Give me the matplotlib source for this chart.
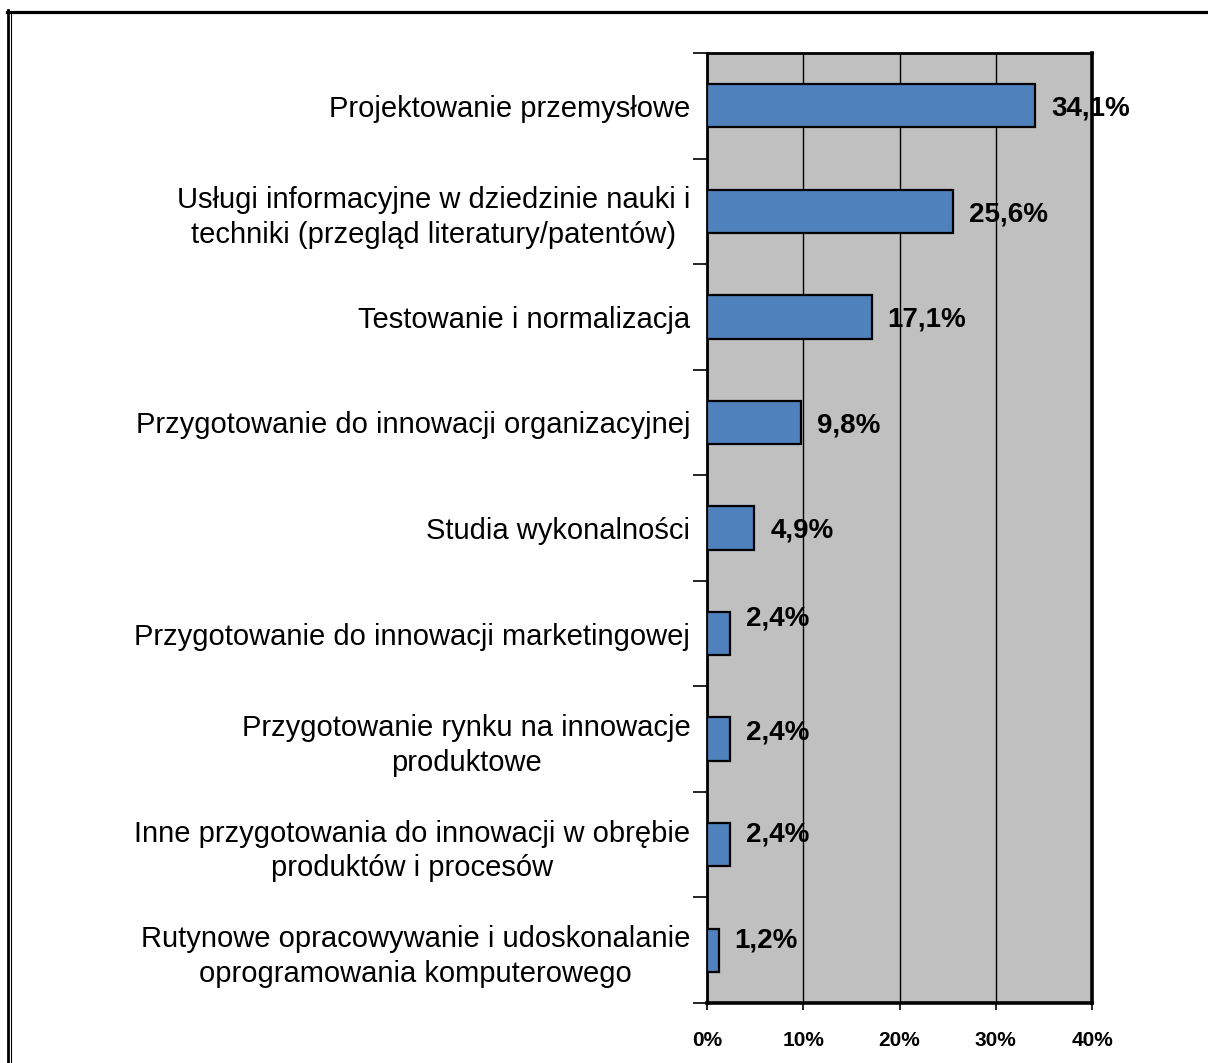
import numpy as np
import matplotlib.pyplot as plt
from matplotlib.lines import Line2D

plt.rcParams["font.family"] = ["Liberation Sans", "DejaVu Sans"]

categories = [
    "Projektowanie przemysłowe",
    "Usługi informacyjne w dziedzinie nauki i\ntechniki (przegląd literatury/patentów)",
    "Testowanie i normalizacja",
    "Przygotowanie do innowacji organizacyjnej",
    "Studia wykonalności",
    "Przygotowanie do innowacji marketingowej",
    "Przygotowanie rynku na innowacje\nproduktowe",
    "Inne przygotowania do innowacji w obrębie\nproduktów i procesów",
    "Rutynowe opracowywanie i udoskonalanie\noprogramowania komputerowego",
]
values = [34.1, 25.6, 17.1, 9.8, 4.9, 2.4, 2.4, 2.4, 1.2]
value_labels = ["34,1%", "25,6%", "17,1%", "9,8%", "4,9%", "2,4%", "2,4%", "2,4%", "1,2%"]
xticks = [0, 10, 20, 30, 40]
xtick_labels = ["0%", "10%", "20%", "30%", "40%"]

W, H = 1208, 1063
fig = plt.figure(figsize=(W / 100, H / 100), dpi=100)

# plot area in pixels
left, right, top, bottom = 707, 1092, 53, 1003
ax = fig.add_axes([left / W, 1 - bottom / H, (right - left) / W, (bottom - top) / H])
ax.set_facecolor("#C0C0C0")

n = len(values)
ypos = np.arange(n)
ax.barh(ypos, values, height=0.41, color="#4F81BD", edgecolor="black",
        linewidth=1.6, zorder=3)

ax.set_xlim(0, 40)
ax.set_ylim(n - 0.5, -0.5)

ax.set_xticks(xticks)
ax.set_xticklabels(xtick_labels, fontsize=15, fontweight="bold")
ax.tick_params(axis="x", direction="out", length=5, width=1.2, pad=15)
ax.xaxis.grid(True, color="black", linewidth=1.0, zorder=1)
ax.set_axisbelow(True)

ax.set_yticks(ypos)
ax.set_yticklabels(categories, fontsize=21, multialignment="center", linespacing=1.3)
ax.tick_params(axis="y", length=0, pad=12)
ax.set_yticks(np.arange(n + 1) - 0.5, minor=True)
ax.tick_params(axis="y", which="minor", direction="out", length=10, width=1.2)

for s in ax.spines.values():
    s.set_linewidth(2.0)
ax.spines["right"].set_linewidth(2.6)
ax.spines["bottom"].set_linewidth(2.6)

# value labels (some sit slightly above the bar centre in the original)
nudges = [0.0, 0.0, 0.0, 0.0, 0.0, -0.17, -0.09, -0.12, -0.12]
for i, (v, lab) in enumerate(zip(values, value_labels)):
    ax.annotate(lab, (v, i + nudges[i]), xytext=(16, 0), textcoords="offset pixels",
                ha="left", va="center_baseline", fontsize=20, fontweight="bold", zorder=4)

# outer frame: thick top line, double line on the left
fig.add_artist(Line2D([7 / W, 1.0], [1 - 11.5 / H, 1 - 11.5 / H], color="black",
                      linewidth=2.3, transform=fig.transFigure))
fig.add_artist(Line2D([8 / W, 8 / W], [0, 1 - 10 / H], color="black",
                      linewidth=2.0, transform=fig.transFigure))
fig.add_artist(Line2D([11 / W, 11 / W], [0, 1 - 13 / H], color="black",
                      linewidth=0.8, transform=fig.transFigure))

fig.savefig("out.png", dpi=100)
